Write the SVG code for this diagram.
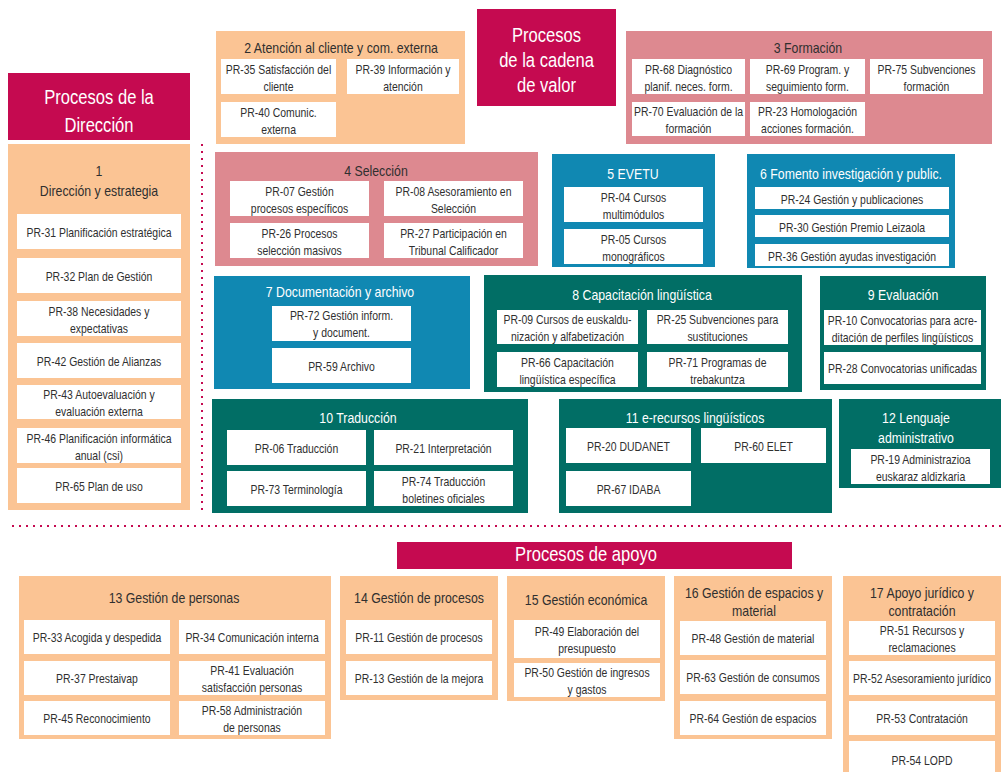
<svg xmlns="http://www.w3.org/2000/svg" width="1001" height="772" viewBox="0 0 1001 772">
<style>
text{font-family:"Liberation Sans",Arial,sans-serif;text-anchor:middle;transform-box:fill-box;transform-origin:center;}
.i{font-size:12px;fill:#2f2f2f;transform:scaleX(.87);}
.t{font-size:14px;fill:#2f2f2f;transform:scaleX(.88);}
.tw{font-size:14px;fill:#fff;transform:scaleX(.88);}
.h{font-size:19.5px;fill:#fff;transform:scaleX(.85);}
.w{fill:#fff;}
.hd{fill:#C50A50;}
.pe{fill:#FBC494;}
.pk{fill:#DD8990;}
.bl{fill:#1088B2;}
.tl{fill:#016E65;}
.dots{fill:none;stroke:#C50A50;stroke-width:2;stroke-dasharray:2 5;}
</style>
<rect width="1001" height="772" fill="#fff"/>

<g id="dividers">
<line class="dots" x1="202" y1="144" x2="202" y2="510"/>
<line class="dots" x1="12" y1="526" x2="1001" y2="526"/>
</g>

<g id="hdr-direccion">
<rect class="hd" x="8" y="73" width="182" height="67"/>
<text class="h" x="99" y="104">Procesos de la</text>
<text class="h" x="99" y="132">Dirección</text>
</g>
<g id="hdr-cadena">
<rect class="hd" x="477" y="9" width="139" height="97"/>
<text class="h" x="546.5" y="42">Procesos</text>
<text class="h" x="546.5" y="67">de la cadena</text>
<text class="h" x="546.5" y="92">de valor</text>
</g>
<g id="hdr-apoyo">
<rect class="hd" x="397" y="542" width="395" height="27"/>
<text class="h" x="586" y="561">Procesos de apoyo</text>
</g>

<g id="box1">
<rect class="pe" x="8" y="144" width="182" height="366"/>
<text class="t" x="99" y="176">1</text>
<text class="t" x="99" y="196">Dirección y estrategia</text>
<g id="pr31"><rect class="w" x="17" y="214" width="164" height="35"/><text class="i" x="99" y="237">PR-31 Planificación estratégica</text></g>
<g id="pr32"><rect class="w" x="17" y="258" width="164" height="35"/><text class="i" x="99" y="281">PR-32 Plan de Gestión</text></g>
<g id="pr38"><rect class="w" x="17" y="301" width="164" height="35"/><text class="i" x="99" y="316">PR-38 Necesidades y</text><text class="i" x="99" y="333">expectativas</text></g>
<g id="pr42"><rect class="w" x="17" y="343" width="164" height="35"/><text class="i" x="99" y="366">PR-42 Gestión de Alianzas</text></g>
<g id="pr43"><rect class="w" x="17" y="385" width="164" height="34"/><text class="i" x="99" y="399.5">PR-43 Autoevaluación y</text><text class="i" x="99" y="416.5">evaluación externa</text></g>
<g id="pr46"><rect class="w" x="17" y="428" width="164" height="35"/><text class="i" x="99" y="443">PR-46 Planificación informática</text><text class="i" x="99" y="460">anual (csi)</text></g>
<g id="pr65"><rect class="w" x="17" y="468" width="164" height="35"/><text class="i" x="99" y="491">PR-65 Plan de uso</text></g>
</g>

<g id="box2">
<rect class="pe" x="216" y="31" width="249" height="113"/>
<text class="t" x="341" y="53">2 Atención al cliente y com. externa</text>
<g id="pr35"><rect class="w" x="221" y="59" width="115" height="35"/><text class="i" x="278.5" y="74">PR-35 Satisfacción del</text><text class="i" x="278.5" y="91">cliente</text></g>
<g id="pr39"><rect class="w" x="347" y="59" width="112" height="35"/><text class="i" x="403" y="74">PR-39 Información y</text><text class="i" x="403" y="91">atención</text></g>
<g id="pr40"><rect class="w" x="221" y="102" width="115" height="35"/><text class="i" x="278.5" y="117">PR-40 Comunic.</text><text class="i" x="278.5" y="134">externa</text></g>
</g>

<g id="box3">
<rect class="pk" x="626" y="31" width="366" height="113"/>
<text class="t" x="808" y="53">3 Formación</text>
<g id="pr68"><rect class="w" x="632" y="59" width="113" height="35"/><text class="i" x="688.5" y="74">PR-68 Diagnóstico</text><text class="i" x="688.5" y="91">planif. neces. form.</text></g>
<g id="pr69"><rect class="w" x="750" y="59" width="115" height="35"/><text class="i" x="807.5" y="74">PR-69 Program. y</text><text class="i" x="807.5" y="91">seguimiento form.</text></g>
<g id="pr75"><rect class="w" x="870" y="59" width="113" height="35"/><text class="i" x="926.5" y="74">PR-75 Subvenciones</text><text class="i" x="926.5" y="91">formación</text></g>
<g id="pr70"><rect class="w" x="632" y="102" width="113" height="34"/><text class="i" x="688.5" y="116.5">PR-70 Evaluación de la</text><text class="i" x="688.5" y="133.5">formación</text></g>
<g id="pr23"><rect class="w" x="750" y="102" width="115" height="34"/><text class="i" x="807.5" y="116.5">PR-23 Homologación</text><text class="i" x="807.5" y="133.5">acciones formación.</text></g>
</g>

<g id="box4">
<rect class="pk" x="215" y="152" width="323" height="114"/>
<text class="t" x="376" y="176">4 Selección</text>
<g id="pr07"><rect class="w" x="230" y="181" width="139" height="35"/><text class="i" x="299.5" y="196">PR-07 Gestión</text><text class="i" x="299.5" y="213">procesos específicos</text></g>
<g id="pr08"><rect class="w" x="384" y="181" width="139" height="35"/><text class="i" x="453.5" y="196">PR-08 Asesoramiento en</text><text class="i" x="453.5" y="213">Selección</text></g>
<g id="pr26"><rect class="w" x="230" y="223" width="139" height="35"/><text class="i" x="299.5" y="238">PR-26 Procesos</text><text class="i" x="299.5" y="255">selección masivos</text></g>
<g id="pr27"><rect class="w" x="384" y="223" width="139" height="35"/><text class="i" x="453.5" y="238">PR-27 Participación en</text><text class="i" x="453.5" y="255">Tribunal Calificador</text></g>
</g>

<g id="box5">
<rect class="bl" x="552" y="154" width="163" height="113"/>
<text class="tw" x="633" y="179">5 EVETU</text>
<g id="pr04"><rect class="w" x="564" y="187" width="139" height="35"/><text class="i" x="633.5" y="202">PR-04 Cursos</text><text class="i" x="633.5" y="219">multimódulos</text></g>
<g id="pr05"><rect class="w" x="564" y="229" width="139" height="35"/><text class="i" x="633.5" y="244">PR-05 Cursos</text><text class="i" x="633.5" y="261">monográficos</text></g>
</g>

<g id="box6">
<rect class="bl" x="747" y="154" width="208" height="114"/>
<text class="tw" x="851" y="179">6 Fomento investigación y public.</text>
<g id="pr24"><rect class="w" x="755" y="187" width="194" height="22"/><text class="i" x="852" y="204.5">PR-24 Gestión y publicaciones</text></g>
<g id="pr30"><rect class="w" x="755" y="215" width="194" height="22"/><text class="i" x="852" y="232.5">PR-30 Gestión Premio Leizaola</text></g>
<g id="pr36"><rect class="w" x="755" y="244" width="194" height="22"/><text class="i" x="852" y="261.5">PR-36 Gestión ayudas investigación</text></g>
</g>

<g id="box7">
<rect class="bl" x="214" y="276" width="256" height="113"/>
<text class="tw" x="340" y="297">7 Documentación y archivo</text>
<g id="pr72"><rect class="w" x="272" y="306" width="139" height="35"/><text class="i" x="341.5" y="320">PR-72 Gestión inform.</text><text class="i" x="341.5" y="337">y document.</text></g>
<g id="pr59"><rect class="w" x="272" y="348" width="139" height="35"/><text class="i" x="341.5" y="371">PR-59 Archivo</text></g>
</g>

<g id="box8">
<rect class="tl" x="484" y="275" width="318" height="117"/>
<text class="tw" x="642" y="300">8 Capacitación lingüística</text>
<g id="pr09"><rect class="w" x="497" y="310" width="141" height="34"/><text class="i" x="567.5" y="324.5">PR-09 Cursos de euskaldu-</text><text class="i" x="567.5" y="341.5">nización y alfabetización</text></g>
<g id="pr25"><rect class="w" x="647" y="310" width="141" height="34"/><text class="i" x="717.5" y="324.5">PR-25 Subvenciones para</text><text class="i" x="717.5" y="341.5">sustituciones</text></g>
<g id="pr66"><rect class="w" x="497" y="352" width="141" height="35"/><text class="i" x="567.5" y="367">PR-66 Capacitación</text><text class="i" x="567.5" y="384">lingüística específica</text></g>
<g id="pr71"><rect class="w" x="647" y="352" width="141" height="35"/><text class="i" x="717.5" y="367">PR-71 Programas de</text><text class="i" x="717.5" y="384">trebakuntza</text></g>
</g>

<g id="box9">
<rect class="tl" x="820" y="276" width="166" height="114"/>
<text class="tw" x="903" y="300">9 Evaluación</text>
<g id="pr10"><rect class="w" x="824" y="310" width="157" height="35"/><text class="i" x="902.5" y="325">PR-10 Convocatorias para acre-</text><text class="i" x="902.5" y="342">ditación de perfiles lingüísticos</text></g>
<g id="pr28"><rect class="w" x="824" y="352" width="157" height="32"/><text class="i" x="902.5" y="373">PR-28 Convocatorias unificadas</text></g>
</g>

<g id="box10">
<rect class="tl" x="212" y="399" width="316" height="114"/>
<text class="tw" x="358" y="423">10 Traducción</text>
<g id="pr06"><rect class="w" x="227" y="430" width="139" height="35"/><text class="i" x="296.5" y="453">PR-06 Traducción</text></g>
<g id="pr21"><rect class="w" x="374" y="430" width="139" height="35"/><text class="i" x="443.5" y="453">PR-21 Interpretación</text></g>
<g id="pr73"><rect class="w" x="227" y="471" width="139" height="35"/><text class="i" x="296.5" y="494">PR-73 Terminología</text></g>
<g id="pr74"><rect class="w" x="374" y="471" width="139" height="35"/><text class="i" x="443.5" y="486">PR-74 Traducción</text><text class="i" x="443.5" y="503">boletines oficiales</text></g>
</g>

<g id="box11">
<rect class="tl" x="559" y="399" width="273" height="114"/>
<text class="tw" x="695" y="423">11 e-recursos lingüísticos</text>
<g id="pr20"><rect class="w" x="566" y="428" width="125" height="35"/><text class="i" x="628.5" y="451">PR-20 DUDANET</text></g>
<g id="pr60"><rect class="w" x="701" y="428" width="125" height="35"/><text class="i" x="763.5" y="451">PR-60 ELET</text></g>
<g id="pr67"><rect class="w" x="566" y="471" width="125" height="35"/><text class="i" x="628.5" y="494">PR-67 IDABA</text></g>
</g>

<g id="box12">
<rect class="tl" x="839" y="399" width="162" height="89"/>
<text class="tw" x="916" y="423">12 Lenguaje</text>
<text class="tw" x="916" y="443">administrativo</text>
<g id="pr19"><rect class="w" x="851" y="449" width="139" height="35"/><text class="i" x="920.5" y="464">PR-19 Administrazioa</text><text class="i" x="920.5" y="481">euskaraz aldizkaria</text></g>
</g>

<g id="box13">
<rect class="pe" x="19" y="576" width="312" height="163"/>
<text class="t" x="174" y="603">13 Gestión de personas</text>
<g id="pr33"><rect class="w" x="24" y="620" width="146" height="34"/><text class="i" x="97" y="642.5">PR-33 Acogida y despedida</text></g>
<g id="pr34"><rect class="w" x="179" y="620" width="146" height="34"/><text class="i" x="252" y="642.5">PR-34 Comunicación interna</text></g>
<g id="pr37"><rect class="w" x="24" y="661" width="146" height="34"/><text class="i" x="97" y="683.5">PR-37 Prestaivap</text></g>
<g id="pr41"><rect class="w" x="179" y="661" width="146" height="34"/><text class="i" x="252" y="675.5">PR-41 Evaluación</text><text class="i" x="252" y="692.5">satisfacción personas</text></g>
<g id="pr45"><rect class="w" x="24" y="701" width="146" height="34"/><text class="i" x="97" y="723.5">PR-45 Reconocimiento</text></g>
<g id="pr58"><rect class="w" x="179" y="701" width="146" height="34"/><text class="i" x="252" y="715.5">PR-58 Administración</text><text class="i" x="252" y="732.5">de personas</text></g>
</g>

<g id="box14">
<rect class="pe" x="340" y="576" width="158" height="124"/>
<text class="t" x="419" y="603">14 Gestión de procesos</text>
<g id="pr11"><rect class="w" x="346" y="620" width="146" height="34"/><text class="i" x="419" y="642.5">PR-11 Gestión de procesos</text></g>
<g id="pr13"><rect class="w" x="346" y="661" width="146" height="34"/><text class="i" x="419" y="683.5">PR-13 Gestión de la mejora</text></g>
</g>

<g id="box15">
<rect class="pe" x="507" y="576" width="158" height="125"/>
<text class="t" x="586" y="605">15 Gestión económica</text>
<g id="pr49"><rect class="w" x="514" y="620" width="146" height="38"/><text class="i" x="587" y="636.5">PR-49 Elaboración del</text><text class="i" x="587" y="653.5">presupuesto</text></g>
<g id="pr50"><rect class="w" x="514" y="663" width="146" height="34"/><text class="i" x="587" y="677.5">PR-50 Gestión de ingresos</text><text class="i" x="587" y="694.5">y gastos</text></g>
</g>

<g id="box16">
<rect class="pe" x="674" y="576" width="158" height="163"/>
<text class="t" x="754" y="598">16 Gestión de espacios y</text>
<text class="t" x="754" y="616">material</text>
<g id="pr48"><rect class="w" x="680" y="621" width="146" height="34"/><text class="i" x="753" y="643.5">PR-48 Gestión de material</text></g>
<g id="pr63"><rect class="w" x="680" y="660" width="146" height="34"/><text class="i" x="753" y="682.5">PR-63 Gestión de consumos</text></g>
<g id="pr64"><rect class="w" x="680" y="701" width="146" height="34"/><text class="i" x="753" y="723.5">PR-64 Gestión de espacios</text></g>
</g>

<g id="box17">
<rect class="pe" x="843" y="576" width="158" height="196"/>
<text class="t" x="922" y="598">17 Apoyo jurídico y</text>
<text class="t" x="922" y="616">contratación</text>
<g id="pr51"><rect class="w" x="849" y="621" width="146" height="34"/><text class="i" x="922" y="635.5">PR-51 Recursos y</text><text class="i" x="922" y="652.5">reclamaciones</text></g>
<g id="pr52"><rect class="w" x="849" y="661" width="146" height="34"/><text class="i" x="922" y="683.5">PR-52 Asesoramiento jurídico</text></g>
<g id="pr53"><rect class="w" x="849" y="701" width="146" height="34"/><text class="i" x="922" y="723.5">PR-53 Contratación</text></g>
<g id="pr54"><rect class="w" x="849" y="741" width="146" height="40"/><text class="i" x="922" y="765">PR-54 LOPD</text></g>
</g>
</svg>
